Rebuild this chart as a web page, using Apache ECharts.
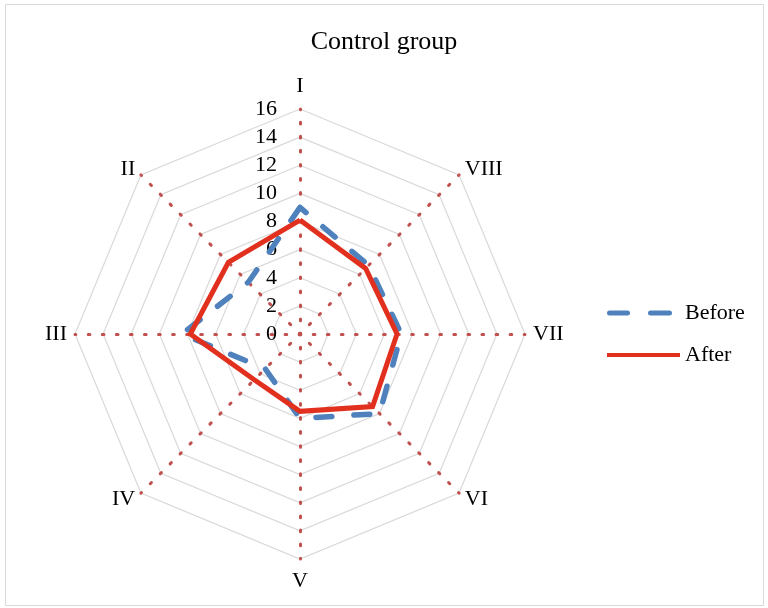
<!DOCTYPE html>
<html>
<head>
<meta charset="utf-8">
<script src="https://cdn.jsdelivr.net/npm/echarts@6/dist/echarts.min.js"></script>
<style>
  html, body { margin: 0; padding: 0; background: #ffffff; }
  #chart { width: 768px; height: 608px; }
</style>
</head>
<body>
<div id="chart"></div>
<script>
// Scores on eight dimensions for the control group, before and after
const axisNames = ['I', 'II', 'III', 'IV', 'V', 'VI', 'VII', 'VIII'];
const beforeValues = [9.0, 5.2, 8.4, 3.5, 6.0, 8.0, 7.2, 6.9];
const afterValues = [8.1, 7.2, 7.8, 4.6, 5.5, 7.3, 6.9, 6.6];
const scaleMax = 16;
const scaleStep = 2;
const seriesNames = ['Before', 'After'];

const FONT = 'Liberation Serif';
const BLUE = '#4f81bd';
const RED = '#e2301f';
const SPOKE = '#c0504d';

const radius = 225;
const unitPx = radius / scaleMax;

// legend glyphs: two rounded dashes for the dashed series, a bar for the solid one
const dashIcon = 'path://M2.5,0 L20.5,0 A2.5,2.5 0 0 1 20.5,5 L2.5,5 A2.5,2.5 0 0 1 2.5,0 Z ' +
  'M43.5,0 L62.5,0 A2.5,2.5 0 0 1 62.5,5 L43.5,5 A2.5,2.5 0 0 1 43.5,0 Z M0,0 M73,5';
const barIcon = 'path://M0,0.5 L73,0.5 L73,4.5 L0,4.5 Z M0,0 M73,5';

const indicator = axisNames.map(function (name, i) {
  const item = { name: name, min: 0, max: scaleMax };
  if (i === 0) {
    item.axisLabel = {
      show: true,
      margin: 23,
      fontFamily: FONT,
      fontSize: 22,
      color: '#000',
      padding: [5, 0, 0, 0],
      formatter: function (v) { return String(Math.round(v)); }
    };
  }
  return item;
});

const chart = echarts.init(document.getElementById('chart'), null, { renderer: 'canvas' });
chart.setOption({
  animation: false,
  backgroundColor: '#ffffff',
  graphic: [{
    type: 'rect',
    shape: { x: 5.5, y: 4.5, width: 758, height: 601 },
    style: { fill: 'none', stroke: '#d9d9d9', lineWidth: 1 },
    silent: true,
    z: -10
  }],
  title: {
    text: 'Control group',
    left: 'center',
    top: 29,
    padding: [0, 0, 0, 14],
    textStyle: { fontFamily: FONT, fontSize: 26, fontWeight: 'normal', color: '#000' }
  },
  legend: {
    orient: 'vertical',
    left: 607,
    top: 302,
    padding: 0,
    itemWidth: 73,
    itemHeight: 5,
    itemGap: 20,
    textStyle: { fontFamily: FONT, fontSize: 22, color: '#000' },
    data: [
      { name: seriesNames[0], icon: dashIcon, itemStyle: { color: BLUE, borderWidth: 0 } },
      { name: seriesNames[1], icon: barIcon, itemStyle: { color: RED, borderWidth: 0 } }
    ]
  },
  radar: {
    center: [300, 334],
    radius: radius,
    startAngle: 90,
    shape: 'polygon',
    splitNumber: scaleMax / scaleStep,
    indicator: indicator,
    axisName: {
      fontFamily: FONT,
      fontSize: 22,
      color: '#000',
      formatter: function (name) {
        if (name === 'I') return '{up|' + name + '}';
        if (name === 'V') return '{down|' + name + '}';
        return name;
      },
      rich: {
        up: { fontFamily: FONT, fontSize: 22, color: '#000', padding: [0, 0, 4, 0] },
        down: { fontFamily: FONT, fontSize: 22, color: '#000', padding: [3, 0, 0, 0] }
      }
    },
    nameGap: 8,
    axisLine: {
      show: true,
      lineStyle: { color: SPOKE, width: 3, type: [1.7, unitPx - 1.7], dashOffset: 0.85 }
    },
    axisTick: { show: false },
    axisLabel: { show: false },
    splitLine: { show: true, lineStyle: { color: '#d9d9d9', width: 1.2 } },
    splitArea: { show: false }
  },
  series: [{
    type: 'radar',
    symbol: 'none',
    data: [
      {
        name: seriesNames[0],
        value: beforeValues,
        itemStyle: { color: BLUE },
        lineStyle: { color: BLUE, width: 5.5, type: [16, 22], cap: 'round', join: 'round' }
      },
      {
        name: seriesNames[1],
        value: afterValues,
        itemStyle: { color: RED },
        lineStyle: { color: RED, width: 5, type: 'solid', join: 'miter' }
      }
    ]
  }]
});
</script>
</body>
</html>
